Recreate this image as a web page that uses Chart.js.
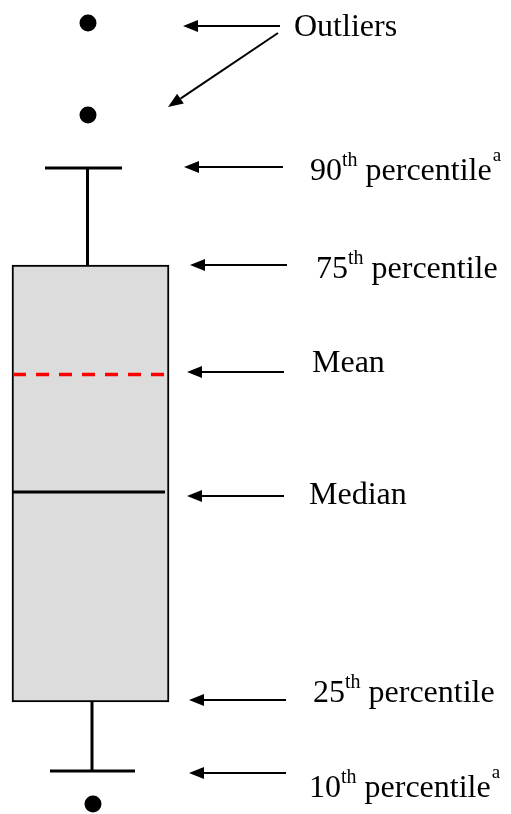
<!DOCTYPE html>
<html>
<head>
<meta charset="utf-8">
<script src="https://cdn.jsdelivr.net/npm/chart.js@4/dist/chart.umd.min.js"></script>
<style>
  html, body { margin: 0; padding: 0; background: #fff; }
  #wrap { width: 511px; height: 814px; position: relative; }
</style>
</head>
<body>
<div id="wrap"><canvas id="boxChart" width="511" height="814"></canvas></div>
<script>
// Schematic box plot — values are in an arbitrary unit (height above the bottom)
const Y_MAX = 81.4;
const X_MAX = 51.1;

const outliers = [79.1, 69.9, 1.0];
const outlierX = [8.8, 8.8, 9.3];
const p90 = 64.6;
const p75 = 54.9;
const mean = 43.95;
const median = 32.2;
const p25 = 11.2;
const p10 = 4.3;

const boxX = 9.05;
const upperStemX = 8.75;
const lowerStemX = 9.2;
const upperCap = [4.5, 12.2];
const lowerCap = [5.0, 13.5];
const innerLine = [1.3, 16.5];

// Annotation arrows: [tailX, tailY, tipX, tipY]
const arrows = [
  [28.0, 78.8, 18.3, 78.8],
  [27.8, 78.1, 16.8, 70.7],
  [28.3, 64.7, 18.4, 64.7],
  [28.7, 54.9, 19.0, 54.9],
  [28.4, 44.2, 18.7, 44.2],
  [28.4, 31.8, 18.7, 31.8],
  [28.6, 11.4, 18.9, 11.4],
  [28.6, 4.1, 18.9, 4.1]
];

// Labels: [x, baselineY, parts] where part = [text, kind] (0 normal, 1 'th' superscript, 2 footnote)
const labels = [
  [29.4, 77.8, [['Outliers', 0]]],
  [31.0, 63.4, [['90', 0], ['th', 1], [' percentile', 0], ['a', 2]]],
  [31.6, 53.6, [['75', 0], ['th', 1], [' percentile', 0]]],
  [31.2, 44.2, [['Mean', 0]]],
  [30.9, 31.0, [['Median', 0]]],
  [31.3, 11.2, [['25', 0], ['th', 1], [' percentile', 0]]],
  [30.9, 1.7, [['10', 0], ['th', 1], [' percentile', 0], ['a', 2]]]
];

const FONT = '"Liberation Serif", "Times New Roman", serif';

const annotations = {
  id: 'annotations',
  afterDatasetsDraw(chart) {
    const { ctx, scales: { x, y } } = chart;
    ctx.save();
    ctx.fillStyle = '#000';
    ctx.strokeStyle = '#000';
    ctx.lineWidth = 2;
    arrows.forEach(([tx, ty, hx, hy]) => {
      const x0 = x.getPixelForValue(tx), y0 = y.getPixelForValue(ty);
      const x1 = x.getPixelForValue(hx), y1 = y.getPixelForValue(hy);
      const ang = Math.atan2(y1 - y0, x1 - x0);
      const len = 15, half = 6;
      const bx = x1 - len * Math.cos(ang), by = y1 - len * Math.sin(ang);
      ctx.beginPath();
      ctx.moveTo(x0, y0);
      ctx.lineTo(bx, by);
      ctx.stroke();
      ctx.beginPath();
      ctx.moveTo(x1, y1);
      ctx.lineTo(bx + half * Math.sin(ang), by - half * Math.cos(ang));
      ctx.lineTo(bx - half * Math.sin(ang), by + half * Math.cos(ang));
      ctx.closePath();
      ctx.fill();
    });

    ctx.textBaseline = 'alphabetic';
    ctx.textAlign = 'left';
    labels.forEach(([lx, ly, parts]) => {
      let px = x.getPixelForValue(lx);
      const py = y.getPixelForValue(ly);
      parts.forEach(([txt, sup]) => {
        if (sup === 1) { ctx.font = '20px ' + FONT; ctx.fillText(txt, px, py - 14); }
        else if (sup === 2) { ctx.font = '19px ' + FONT; ctx.fillText(txt, px + 1, py - 19); }
        else { ctx.font = '32px ' + FONT; ctx.fillText(txt, px, py); }
        px += ctx.measureText(txt).width;
      });
    });
    ctx.restore();
  }
};

// order: lower numbers are painted on top
const line = (pts, color, width, order, dash) => ({
  type: 'line',
  data: pts,
  order: order,
  borderColor: color,
  borderWidth: width,
  borderDash: dash || [],
  borderCapStyle: 'butt',
  pointRadius: 0,
  fill: false,
  clip: false
});

new Chart(document.getElementById('boxChart'), {
  type: 'bar',
  data: {
    datasets: [
      line([{ x: upperStemX, y: p75 }, { x: upperStemX, y: p90 }], '#000', 3, 6),
      line([{ x: upperCap[0], y: p90 }, { x: upperCap[1], y: p90 }], '#000', 3, 6),
      line([{ x: lowerStemX, y: p25 }, { x: lowerStemX, y: p10 }], '#000', 3, 6),
      line([{ x: lowerCap[0], y: p10 }, { x: lowerCap[1], y: p10 }], '#000', 3, 6),
      {
        type: 'bar',
        order: 5,
        data: [{ x: boxX, y: [p25, p75] }],
        backgroundColor: '#dcdcdc',
        borderColor: '#000',
        borderWidth: 2,
        borderSkipped: false,
        barThickness: 157
      },
      line([{ x: innerLine[0], y: mean }, { x: innerLine[1], y: mean }], '#ff0000', 3.5, 1, [13, 10]),
      line([{ x: innerLine[0], y: median }, { x: innerLine[1], y: median }], '#000', 3, 1),
      {
        type: 'scatter',
        order: 0,
        data: outliers.map((v, i) => ({ x: outlierX[i], y: v })),
        backgroundColor: '#000',
        borderWidth: 0,
        pointRadius: 8.5,
        clip: false
      }
    ]
  },
  options: {
    responsive: false,
    animation: false,
    layout: { padding: 0, autoPadding: false },
    plugins: { legend: { display: false }, tooltip: { enabled: false } },
    scales: {
      x: { type: 'linear', min: 0, max: X_MAX, display: false, offset: false, grid: { display: false } },
      y: { type: 'linear', min: 0, max: Y_MAX, display: false, grid: { display: false } }
    }
  },
  plugins: [annotations]
});
</script>
</body>
</html>
